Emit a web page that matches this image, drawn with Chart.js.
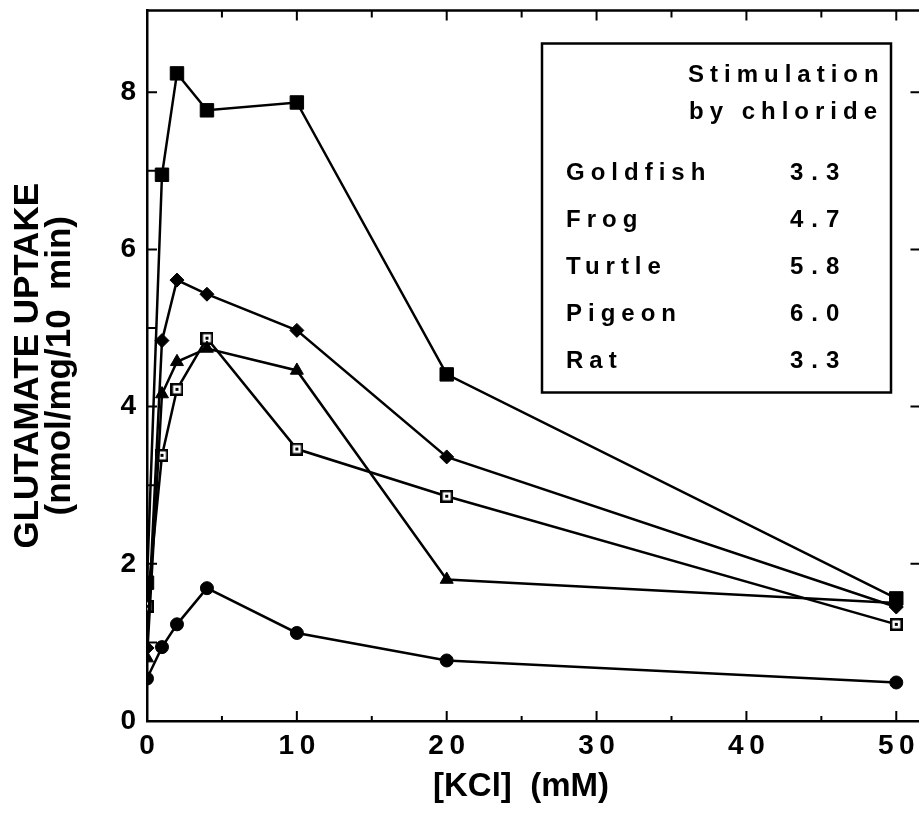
<!DOCTYPE html>
<html>
<head>
<meta charset="utf-8">
<script src="https://cdn.jsdelivr.net/npm/chart.js@4.4.0/dist/chart.umd.min.js"></script>
<style>
  html, body { margin: 0; padding: 0; background: #fff; overflow: hidden; }
  #chart { display: block; }
</style>
</head>
<body>
<canvas id="chart" width="933" height="828"></canvas>
<script>
// concentracoes de KCl (mM)
const kclConc = [0, 1, 2, 4, 10, 20, 50];

// captacao de glutamato, uma serie por marcador
const filledSquares = [1.76, 6.95, 8.24, 7.77, 7.87, 4.41, 1.56];
const filledDiamonds = [0.93, 4.84, 5.61, 5.43, 4.97, 3.36, 1.45];
const filledTriangles = [0.80, 4.16, 4.57, 4.74, 4.46, 1.80, 1.50];
const openSquares = [1.46, 3.38, 4.22, 4.87, 3.46, 2.86, 1.23];
const filledCircles = [0.54, 0.94, 1.23, 1.69, 1.12, 0.77, 0.49];

// ticks
const xTickLabels = [0, 10, 20, 30, 40, 50];
const xMinorTicks = [5, 15, 25, 35, 45];
const yTickLabels = [0, 2, 4, 6, 8];
const yMinorTicks = [1, 3, 5, 7];

// quadro "Stimulation by chloride"
const speciesNames = ['Goldfish', 'Frog', 'Turtle', 'Pigeon', 'Rat'];
const chlorideStim = ['3.3', '4.7', '5.8', '6.0', '3.3'];

const FONT = "'Liberation Sans', Arial, Helvetica, sans-serif";

function toPoints(values) {
    return kclConc.map((x, i) => ({ x: x, y: values[i] }));
}

// quadrado vazado com ponto no meio
function openSquareMarker() {
    const c = document.createElement('canvas');
    c.width = 13;
    c.height = 13;
    const g = c.getContext('2d');
    g.fillStyle = '#fff';
    g.fillRect(0, 0, 13, 13);
    g.strokeStyle = '#000';
    g.lineWidth = 2.5;
    g.strokeRect(1.25, 1.25, 10.5, 10.5);
    g.fillStyle = '#000';
    g.fillRect(5, 5, 3, 3);
    return c;
}

function spacedText(ctx, text, x, y, spacing) {
    if ('letterSpacing' in ctx) {
        ctx.letterSpacing = spacing + 'px';
        ctx.fillText(text, x, y);
        ctx.letterSpacing = '0px';
        return;
    }
    for (const ch of text) {
        ctx.fillText(ch, x, y);
        x += ctx.measureText(ch).width + spacing;
    }
}

// ticks para dentro + linha de cima (a borda direita fica fora da imagem)
const frameTicks = {
    id: 'frameTicks',
    afterDraw(chart) {
        const ctx = chart.ctx;
        const area = chart.chartArea;
        const xs = chart.scales.x;
        const ys = chart.scales.y;
        ctx.save();
        ctx.strokeStyle = '#000';
        ctx.lineWidth = 2.5;
        ctx.beginPath();
        ctx.moveTo(area.left - 1, area.top);
        ctx.lineTo(area.right, area.top);
        ctx.stroke();

        ctx.lineWidth = 2;
        ctx.beginPath();
        xTickLabels.forEach(v => {
            const px = xs.getPixelForValue(v);
            ctx.moveTo(px, area.bottom); ctx.lineTo(px, area.bottom - 10);
            ctx.moveTo(px, area.top); ctx.lineTo(px, area.top + 10);
        });
        xMinorTicks.forEach(v => {
            const px = xs.getPixelForValue(v);
            ctx.moveTo(px, area.bottom); ctx.lineTo(px, area.bottom - 5);
            ctx.moveTo(px, area.top); ctx.lineTo(px, area.top + 7);
        });
        yTickLabels.concat(yMinorTicks).forEach(v => {
            if (v === 0) return;
            const py = ys.getPixelForValue(v);
            ctx.moveTo(area.left, py); ctx.lineTo(area.left + 10, py);
        });
        yTickLabels.forEach(v => {
            if (v === 0) return;
            const py = ys.getPixelForValue(v);
            ctx.moveTo(area.right - 2, py); ctx.lineTo(area.right - 12, py);
        });
        ctx.stroke();

        // titulo do eixo x
        ctx.fillStyle = '#000';
        ctx.font = 'bold 33px ' + FONT;
        ctx.textAlign = 'center';
        ctx.textBaseline = 'middle';
        ctx.fillText('[KCl]  (mM)', area.left + 374, area.bottom + 66);
        ctx.restore();
    }
};

// quadro com os valores de estimulacao
const stimBox = {
    id: 'stimBox',
    afterDraw(chart) {
        const ctx = chart.ctx;
        const area = chart.chartArea;
        const left = area.left + 395;
        const top = area.top + 33;
        ctx.save();
        ctx.strokeStyle = '#000';
        ctx.lineWidth = 2.5;
        ctx.strokeRect(left, top, 349, 349);
        ctx.fillStyle = '#000';
        ctx.font = 'bold 24px ' + FONT;
        ctx.textBaseline = 'alphabetic';
        ctx.textAlign = 'left';
        spacedText(ctx, 'Stimulation', left + 146, top + 38, 6);
        spacedText(ctx, 'by chloride', left + 147, top + 75, 6);
        speciesNames.forEach((name, i) => {
            const y = top + 136 + i * 47;
            spacedText(ctx, name, left + 24, y, 6);
            spacedText(ctx, chlorideStim[i], left + 248, y, 8);
        });
        ctx.restore();
    }
};

const lineStyle = {
    showLine: true,
    borderColor: '#000',
    borderWidth: 2.5,
    pointBackgroundColor: '#000',
    pointBorderColor: '#000',
    pointBorderWidth: 1
};

new Chart(document.getElementById('chart'), {
    type: 'scatter',
    data: {
        datasets: [
            Object.assign({ label: 'filled squares', data: toPoints(filledSquares), pointStyle: 'rect', pointRadius: 9.5 }, lineStyle),
            Object.assign({ label: 'filled diamonds', data: toPoints(filledDiamonds), pointStyle: 'rectRot', pointRadius: 7 }, lineStyle),
            Object.assign({ label: 'filled triangles', data: toPoints(filledTriangles), pointStyle: 'triangle', pointRadius: 7.5 }, lineStyle),
            Object.assign({ label: 'open squares', data: toPoints(openSquares), pointStyle: openSquareMarker(), pointRadius: 7 }, lineStyle),
            Object.assign({ label: 'filled circles', data: toPoints(filledCircles), pointStyle: 'circle', pointRadius: 6.5 }, lineStyle)
        ]
    },
    options: {
        responsive: false,
        animation: false,
        layout: { padding: { left: 0, right: 0, top: 8, bottom: 0 } },
        plugins: {
            legend: { display: false },
            tooltip: { enabled: false }
        },
        scales: {
            x: {
                type: 'linear',
                min: 0,
                max: 51.75,
                afterFit: s => { s.height = 107; s.paddingLeft = 0; s.paddingRight = 0; },
                grid: { display: false, drawTicks: false },
                border: { display: true, color: '#000', width: 2.5 },
                ticks: {
                    stepSize: 10,
                    includeBounds: false,
                    padding: 8,
                    color: '#000',
                    font: { family: FONT, size: 28, weight: 'bold' },
                    callback: v => xTickLabels.includes(v) ? String(v).split('').join('\u2009') : ''
                },
                title: { display: false }
            },
            y: {
                type: 'linear',
                min: 0,
                max: 9.04,
                afterFit: s => { s.width = 147; s.paddingTop = 0; s.paddingBottom = 0; },
                grid: { display: false, drawTicks: false },
                border: { display: true, color: '#000', width: 2.5 },
                ticks: {
                    stepSize: 2,
                    includeBounds: false,
                    padding: 11,
                    color: '#000',
                    font: { family: FONT, size: 28, weight: 'bold' },
                    callback: v => yTickLabels.includes(v) ? String(v) : ''
                },
                title: {
                    display: true,
                    text: ['GLUTAMATE UPTAKE', '(nmol/mg/10  min)'],
                    color: '#000',
                    font: { family: FONT, size: 35, weight: 'bold', lineHeight: '32px' },
                    padding: { top: 12, bottom: 0 }
                }
            }
        }
    },
    plugins: [frameTicks, stimBox]
});
</script>
</body>
</html>
